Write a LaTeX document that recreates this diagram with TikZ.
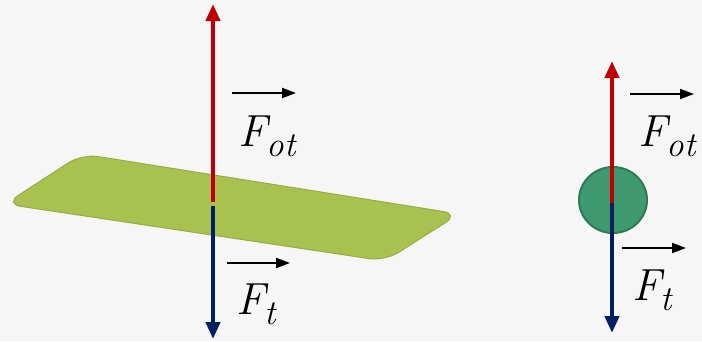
\documentclass[tikz,border=0pt]{standalone}
\usepackage{fontspec}
\usetikzlibrary{arrows.meta}
\definecolor{bg}{HTML}{F6F6F6}
\definecolor{plate}{HTML}{A9C14E}
\definecolor{plateedge}{HTML}{96AD42}
\definecolor{ball}{HTML}{3F9970}
\definecolor{balledge}{HTML}{2F7A55}
\definecolor{fred}{HTML}{C00000}
\definecolor{fblue}{HTML}{002060}
\newcommand{\forcelbl}[1]{\itshape F\raisebox{-0.24em}{\fontsize{35}{40}\selectfont #1}}
\tikzset{
  upforce/.style={draw=fred, line width=4.5pt, -{Triangle[width=14pt,length=17pt]}},
  downforce/.style={draw=fblue, line width=4.5pt, -{Triangle[width=14pt,length=17pt]}},
  vecarrow/.style={draw=black, line width=2pt, -{Triangle[width=10pt,length=14pt]}},
  lbl/.style={inner sep=0pt, anchor=base west, font=\fontsize{45}{54}\selectfont}
}
\begin{document}
\begin{tikzpicture}[x=1pt,y=-1pt]
\fill[bg] (0,0) rectangle (702,341);
\useasboundingbox (0,0) rectangle (702,341);
% plate
\draw[fill=plate, draw=plateedge, line width=1pt, rounded corners=16pt]
  (5,204) -- (82,154) -- (459,214) -- (385,261) -- cycle;
% ball
\coordinate (ballc) at (613,200);
\draw[fill=ball, draw=balledge, line width=2pt] (ballc) ellipse [x radius=34pt, y radius=33pt];
% left forces
\coordinate (lc1) at (213,202);
\coordinate (lc2) at (213,206);
\coordinate (ltop) at (213,4);
\coordinate (lbot) at (213,339);
\draw[upforce] (lc1) -- (ltop);
\draw[downforce] (lc2) -- (lbot);
% right forces
\coordinate (rc1) at (612,203);
\coordinate (rc2) at (612,201);
\coordinate (rtop) at (612,61);
\coordinate (rbot) at (612,333);
\draw[downforce] (rc2) -- (rbot);
\draw[upforce] (rc1) -- (rtop);
% vector arrows and labels
\coordinate (a1s) at (232,93); \coordinate (a1e) at (296,93);
\coordinate (a2s) at (227,263); \coordinate (a2e) at (290,263);
\coordinate (a3s) at (630,94); \coordinate (a3e) at (694,94);
\coordinate (a4s) at (622,248); \coordinate (a4e) at (686,248);
\draw[vecarrow] (a1s) -- (a1e);
\draw[vecarrow] (a2s) -- (a2e);
\draw[vecarrow] (a3s) -- (a3e);
\draw[vecarrow] (a4s) -- (a4e);
\node[lbl] (fot1) at (238,146) {\forcelbl{ot}};
\node[lbl] (ft1) at (236,314) {\forcelbl{t}};
\node[lbl] (fot2) at (638,146) {\forcelbl{ot}};
\node[lbl] (ft2) at (632,300) {\forcelbl{t}};
\end{tikzpicture}
\end{document}
